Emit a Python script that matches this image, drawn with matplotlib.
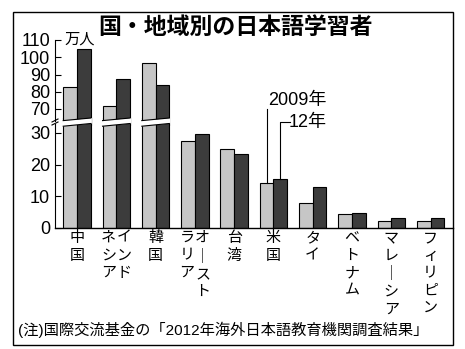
import matplotlib
matplotlib.use('Agg')
import matplotlib.pyplot as plt
from matplotlib import transforms
from matplotlib.patches import Polygon, Rectangle
from matplotlib.lines import Line2D

# 国・地域別の日本語学習者数（万人）
countries = ["中国", "インドネシア", "韓国", "オーストラリア", "台湾",
             "米国", "タイ", "ベトナム", "マレーシア", "フィリピン"]
learners_2009 = [82.7, 71.6, 96.4, 27.6, 24.8, 14.1, 7.9, 4.4, 2.3, 2.2]
learners_2012 = [104.6, 87.2, 84.0, 29.7, 23.3, 15.6, 13.0, 4.7, 3.3, 3.2]

# 縦書きラベル（右の列から読む）
x_label_columns = [["中国"], ["インド", "ネシア"], ["韓国"], ["オ｜スト", "ラリア"],
                   ["台湾"], ["米国"], ["タイ"], ["ベトナム"], ["マレ｜シア"], ["フィリピン"]]
low_ticks = [0, 10, 20, 30]
high_ticks = [70, 80, 90, 100, 110]

JP = ['Noto Sans CJK JP', 'DejaVu Sans']
NUM = ['Liberation Sans Narrow', 'Liberation Sans', 'Noto Sans CJK JP']
LATIN_JP = ['Liberation Sans', 'Noto Sans CJK JP']

W, H = 465, 349


def fx(px):
    return px / W


def fy(py):
    return 1 - py / H


fig = plt.figure(figsize=(W / 100, H / 100), dpi=100)

# 下段 0〜30、上段 70〜110 の2段構成
ax_lo = fig.add_axes([fx(55), fy(228), fx(453) - fx(55), fy(118) - fy(228)])
ax_hi = fig.add_axes([fx(55), fy(126), fx(453) - fx(55), fy(40) - fy(126)], sharex=ax_lo)
lo_top = (228 - 118) / 3.167
hi_bottom = 70 - (126 - 109) / 1.725
ax_lo.set_ylim(0, lo_top)
ax_hi.set_ylim(hi_bottom, 110)
ax_lo.set_xlim(-0.56, 9.57)

width = 0.35
xs = list(range(len(countries)))
c09 = '#c6c6c6'
c12 = '#3c3c3c'
for ax in (ax_lo, ax_hi):
    ax.patch.set_visible(False)
    ax.bar([x - width / 2 for x in xs], learners_2009, width, color=c09,
           edgecolor='black', linewidth=0.8)
    ax.bar([x + width / 2 for x in xs], learners_2012, width, color=c12,
           edgecolor='black', linewidth=0.8)
    for s in ('top', 'right'):
        ax.spines[s].set_visible(False)
    ax.tick_params(axis='y', direction='in', length=4, width=0.8, pad=3.5,
                   labelsize=13)
    ax.tick_params(axis='x', length=0, labelbottom=False)

ax_hi.spines['bottom'].set_visible(False)
ax_lo.set_yticks(low_ticks)
ax_hi.set_yticks(high_ticks)
for ax in (ax_lo, ax_hi):
    for lab in ax.get_yticklabels():
        lab.set_family(NUM)
ax_lo.spines['left'].set_bounds(0, (228 - 124) / 3.167)
ax_hi.spines['left'].set_bounds(70 - (121 - 109) / 1.725, 110)
ax_lo.spines['bottom'].set_linewidth(1.0)

# 省略部分の斜めの切れ目
cut = transforms.blended_transform_factory(ax_lo.transData, fig.transFigure)
for i in xs:
    if max(learners_2009[i], learners_2012[i]) > lo_top:
        x0, x1 = i - width - 0.03, i + width + 0.03
        fig.add_artist(Polygon([(x0, fy(126.5)), (x1, fy(123.5)),
                                (x1, fy(118.0)), (x0, fy(120.8))],
                               closed=True, facecolor='white', edgecolor='none',
                               transform=cut, zorder=5))
        xb0, xb1 = i - width, i + width
        fig.add_artist(Line2D([xb0, xb1], [fy(126.2), fy(123.5)], color='black',
                              lw=0.8, transform=cut, zorder=6))
        fig.add_artist(Line2D([xb0, xb1], [fy(120.6), fy(118.0)], color='black',
                              lw=0.8, transform=cut, zorder=6))

# 縦軸の省略記号
for dy in (0, 3):
    fig.add_artist(Line2D([fx(52), fx(58)], [fy(122 + dy), fy(119 + dy)],
                          color='black', lw=0.8, zorder=6))

# 縦書きの国名
lab_tr = transforms.blended_transform_factory(ax_lo.transData, fig.transFigure)
for i, cols in enumerate(x_label_columns):
    n = len(cols)
    for j, col in enumerate(cols):
        off = 0.2 * ((n - 1) / 2 - j) * 2 if n > 1 else 0
        ax_lo.text(i + off, fy(231), "\n".join(col), transform=lab_tr,
                   ha='center', va='top', fontsize=10.8, family=JP,
                   linespacing=1.32)

# 凡例（米国の棒から引き出し線）
ax_lo.plot([5 - width / 2] * 2, [learners_2009[5], (228 - 109) / 3.167],
           color='black', lw=0.8, clip_on=False)
y12 = (228 - 122) / 3.167
ax_lo.plot([5 + width / 2, 5 + width / 2, 5.42], [learners_2012[5], y12, y12],
           color='black', lw=0.8, clip_on=False)
ax_lo.text(6.36, (228 - 100) / 3.167, "2009年", ha='right', va='center',
           fontsize=13, family=LATIN_JP, clip_on=False)
ax_lo.text(6.36, y12, "12年", ha='right', va='center',
           fontsize=13, family=LATIN_JP, clip_on=False)

fig.text(fx(64), fy(39.5), "万人", ha='left', va='center', fontsize=11, family=JP)
fig.text(fx(235), fy(27), "国・地域別の日本語学習者", ha='center', va='center',
         fontsize=16.5, fontweight='bold', family=JP)
fig.text(fx(18), fy(330), "(注)国際交流基金の「2012年海外日本語教育機関調査結果」",
         ha='left', va='center', fontsize=11, family=LATIN_JP)

fig.add_artist(Rectangle((fx(13), fy(345)), fx(453) - fx(13), fy(12) - fy(345),
                         fill=False, edgecolor='black', lw=1.0,
                         transform=fig.transFigure))

fig.savefig('out.png', dpi=100)
